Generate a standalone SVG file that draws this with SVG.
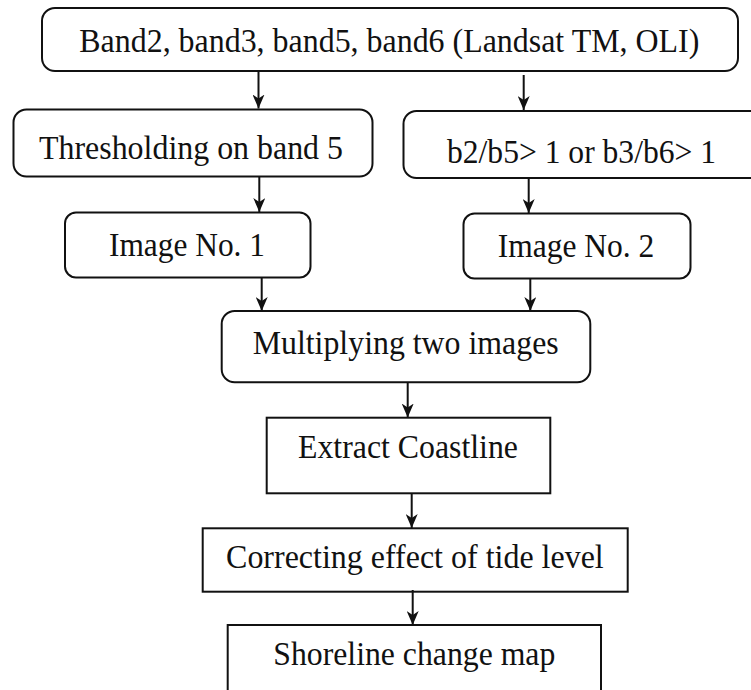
<svg xmlns="http://www.w3.org/2000/svg" width="751" height="690" viewBox="0 0 751 690">
<style>
.box{fill:#fff;stroke:#111;stroke-width:2}
.t{font-family:"Liberation Serif","Times New Roman",serif;font-size:34px;fill:#111;text-anchor:middle}
.c{stroke:#111;stroke-width:2;fill:none;marker-end:url(#ah)}
</style>
<defs>
<marker id="ah" markerUnits="userSpaceOnUse" viewBox="0 0 14 12" refX="14" refY="6" markerWidth="14" markerHeight="12" orient="auto">
<path d="M0,0 L14,6 L0,12 L4,6 z" fill="#111"/>
</marker>
</defs>
<rect width="751" height="690" fill="#fff"/>
<g id="n-input">
<rect class="box" x="42" y="8" width="696" height="63" rx="13"/>
<text class="t" x="389.3" y="52" textLength="620" lengthAdjust="spacingAndGlyphs">Band2, band3, band5, band6 (Landsat TM, OLI)</text>
</g>
<g id="n-thresh">
<rect class="box" x="13.5" y="109.5" width="359" height="67" rx="13"/>
<text class="t" x="191" y="158.5" textLength="304" lengthAdjust="spacingAndGlyphs">Thresholding on band 5</text>
</g>
<g id="n-ratio">
<rect class="box" x="403.5" y="111" width="360" height="67" rx="13"/>
<text class="t" x="581.5" y="163" textLength="269" lengthAdjust="spacingAndGlyphs">b2/b5&gt; 1 or b3/b6&gt; 1</text>
</g>
<g id="n-img1">
<rect class="box" x="65" y="212.5" width="245.5" height="65" rx="11"/>
<text class="t" x="187" y="256" textLength="156" lengthAdjust="spacingAndGlyphs">Image No. 1</text>
</g>
<g id="n-img2">
<rect class="box" x="463.5" y="213.5" width="227" height="65" rx="11"/>
<text class="t" x="576" y="256.5" textLength="156.6" lengthAdjust="spacingAndGlyphs">Image No. 2</text>
</g>
<g id="n-mult">
<rect class="box" x="221.7" y="311" width="368.6" height="71.3" rx="13"/>
<text class="t" x="405.7" y="354" textLength="306" lengthAdjust="spacingAndGlyphs">Multiplying two images</text>
</g>
<g id="n-extract">
<rect class="box" x="266.7" y="417.7" width="283.6" height="75.6"/>
<text class="t" x="408" y="458" textLength="220" lengthAdjust="spacingAndGlyphs">Extract Coastline</text>
</g>
<g id="n-correct">
<rect class="box" x="202.7" y="528.3" width="425" height="63.4"/>
<text class="t" x="414.9" y="568" textLength="377.7" lengthAdjust="spacingAndGlyphs">Correcting effect of tide level</text>
</g>
<g id="n-shore">
<rect class="box" x="227.7" y="625" width="373.3" height="80"/>
<text class="t" x="414.3" y="665" textLength="282" lengthAdjust="spacingAndGlyphs">Shoreline change map</text>
</g>
<g id="connectors">
<line class="c" x1="258.5" y1="71" x2="258.5" y2="108.5"/>
<line class="c" x1="523.7" y1="75" x2="523.7" y2="110"/>
<line class="c" x1="259.3" y1="177" x2="259.3" y2="212"/>
<line class="c" x1="528.7" y1="178" x2="528.7" y2="213"/>
<line class="c" x1="261.7" y1="277" x2="261.7" y2="311"/>
<line class="c" x1="530.3" y1="278" x2="530.3" y2="311"/>
<line class="c" x1="407.7" y1="382" x2="407.7" y2="417.5"/>
<line class="c" x1="411.7" y1="493" x2="411.7" y2="528"/>
<line class="c" x1="412.7" y1="590" x2="412.7" y2="625"/>
</g>
</svg>
